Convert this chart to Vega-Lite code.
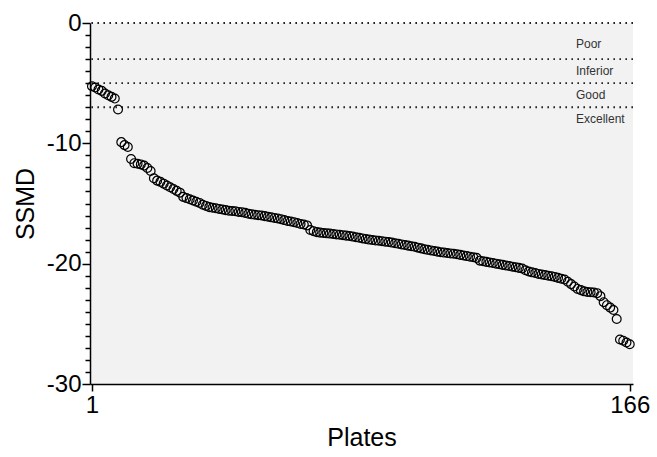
{
  "$schema": "https://vega.github.io/schema/vega-lite/v6.json",
  "width": 543,
  "height": 361,
  "autosize": "none",
  "padding": {"left": 90, "top": 23, "right": 24, "bottom": 73},
  "config": {
    "view": {"fill": "#f2f2f2", "stroke": null},
    "font": "Liberation Sans",
    "axis": {"domainColor": "#000", "tickColor": "#000", "labelColor": "#000", "titleColor": "#000", "grid": false, "labelFont": "Liberation Sans", "titleFont": "Liberation Sans", "titleFontWeight": "normal", "domainWidth": 1.5, "tickWidth": 1.5}
  },
  "datasets": {
    "plates": [
      {"plate":1,"ssmd":-5.25},{"plate":2,"ssmd":-5.36},{"plate":3,"ssmd":-5.53},{"plate":4,"ssmd":-5.64},{"plate":5,"ssmd":-5.86},{"plate":6,"ssmd":-6.0},{"plate":7,"ssmd":-6.14},{"plate":8,"ssmd":-6.28},{"plate":9,"ssmd":-7.19},{"plate":10,"ssmd":-9.9},
      {"plate":11,"ssmd":-10.15},{"plate":12,"ssmd":-10.3},{"plate":13,"ssmd":-11.3},{"plate":14,"ssmd":-11.65},{"plate":15,"ssmd":-11.7},{"plate":16,"ssmd":-11.75},{"plate":17,"ssmd":-11.85},{"plate":18,"ssmd":-12.05},{"plate":19,"ssmd":-12.3},{"plate":20,"ssmd":-12.9},
      {"plate":21,"ssmd":-13.1},{"plate":22,"ssmd":-13.2},{"plate":23,"ssmd":-13.35},{"plate":24,"ssmd":-13.5},{"plate":25,"ssmd":-13.65},{"plate":26,"ssmd":-13.8},{"plate":27,"ssmd":-13.95},{"plate":28,"ssmd":-14.1},{"plate":29,"ssmd":-14.45},{"plate":30,"ssmd":-14.55},
      {"plate":31,"ssmd":-14.65},{"plate":32,"ssmd":-14.75},{"plate":33,"ssmd":-14.85},{"plate":34,"ssmd":-14.95},{"plate":35,"ssmd":-15.1},{"plate":36,"ssmd":-15.2},{"plate":37,"ssmd":-15.3},{"plate":38,"ssmd":-15.35},{"plate":39,"ssmd":-15.4},{"plate":40,"ssmd":-15.45},
      {"plate":41,"ssmd":-15.5},{"plate":42,"ssmd":-15.55},{"plate":43,"ssmd":-15.6},{"plate":44,"ssmd":-15.62},{"plate":45,"ssmd":-15.65},{"plate":46,"ssmd":-15.7},{"plate":47,"ssmd":-15.72},{"plate":48,"ssmd":-15.78},{"plate":49,"ssmd":-15.85},{"plate":50,"ssmd":-15.9},
      {"plate":51,"ssmd":-15.93},{"plate":52,"ssmd":-15.97},{"plate":53,"ssmd":-16.0},{"plate":54,"ssmd":-16.05},{"plate":55,"ssmd":-16.1},{"plate":56,"ssmd":-16.15},{"plate":57,"ssmd":-16.2},{"plate":58,"ssmd":-16.25},{"plate":59,"ssmd":-16.3},{"plate":60,"ssmd":-16.38},
      {"plate":61,"ssmd":-16.45},{"plate":62,"ssmd":-16.5},{"plate":63,"ssmd":-16.55},{"plate":64,"ssmd":-16.62},{"plate":65,"ssmd":-16.7},{"plate":66,"ssmd":-16.75},{"plate":67,"ssmd":-16.82},{"plate":68,"ssmd":-17.2},{"plate":69,"ssmd":-17.3},{"plate":70,"ssmd":-17.38},
      {"plate":71,"ssmd":-17.42},{"plate":72,"ssmd":-17.45},{"plate":73,"ssmd":-17.48},{"plate":74,"ssmd":-17.5},{"plate":75,"ssmd":-17.53},{"plate":76,"ssmd":-17.57},{"plate":77,"ssmd":-17.6},{"plate":78,"ssmd":-17.63},{"plate":79,"ssmd":-17.67},{"plate":80,"ssmd":-17.7},
      {"plate":81,"ssmd":-17.75},{"plate":82,"ssmd":-17.8},{"plate":83,"ssmd":-17.85},{"plate":84,"ssmd":-17.9},{"plate":85,"ssmd":-17.95},{"plate":86,"ssmd":-18.0},{"plate":87,"ssmd":-18.03},{"plate":88,"ssmd":-18.07},{"plate":89,"ssmd":-18.1},{"plate":90,"ssmd":-18.13},
      {"plate":91,"ssmd":-18.17},{"plate":92,"ssmd":-18.2},{"plate":93,"ssmd":-18.25},{"plate":94,"ssmd":-18.3},{"plate":95,"ssmd":-18.35},{"plate":96,"ssmd":-18.4},{"plate":97,"ssmd":-18.45},{"plate":98,"ssmd":-18.5},{"plate":99,"ssmd":-18.55},{"plate":100,"ssmd":-18.6},
      {"plate":101,"ssmd":-18.67},{"plate":102,"ssmd":-18.73},{"plate":103,"ssmd":-18.8},{"plate":104,"ssmd":-18.85},{"plate":105,"ssmd":-18.9},{"plate":106,"ssmd":-18.95},{"plate":107,"ssmd":-19.0},{"plate":108,"ssmd":-19.05},{"plate":109,"ssmd":-19.08},{"plate":110,"ssmd":-19.12},
      {"plate":111,"ssmd":-19.15},{"plate":112,"ssmd":-19.18},{"plate":113,"ssmd":-19.22},{"plate":114,"ssmd":-19.27},{"plate":115,"ssmd":-19.32},{"plate":116,"ssmd":-19.37},{"plate":117,"ssmd":-19.42},{"plate":118,"ssmd":-19.47},{"plate":119,"ssmd":-19.52},{"plate":120,"ssmd":-19.75},
      {"plate":121,"ssmd":-19.8},{"plate":122,"ssmd":-19.85},{"plate":123,"ssmd":-19.9},{"plate":124,"ssmd":-19.95},{"plate":125,"ssmd":-20.0},{"plate":126,"ssmd":-20.05},{"plate":127,"ssmd":-20.1},{"plate":128,"ssmd":-20.15},{"plate":129,"ssmd":-20.2},{"plate":130,"ssmd":-20.25},
      {"plate":131,"ssmd":-20.3},{"plate":132,"ssmd":-20.35},{"plate":133,"ssmd":-20.4},{"plate":134,"ssmd":-20.55},{"plate":135,"ssmd":-20.65},{"plate":136,"ssmd":-20.72},{"plate":137,"ssmd":-20.78},{"plate":138,"ssmd":-20.85},{"plate":139,"ssmd":-20.9},{"plate":140,"ssmd":-20.95},
      {"plate":141,"ssmd":-21.0},{"plate":142,"ssmd":-21.05},{"plate":143,"ssmd":-21.1},{"plate":144,"ssmd":-21.18},{"plate":145,"ssmd":-21.25},{"plate":146,"ssmd":-21.32},{"plate":147,"ssmd":-21.5},{"plate":148,"ssmd":-21.7},{"plate":149,"ssmd":-21.9},{"plate":150,"ssmd":-22.1},
      {"plate":151,"ssmd":-22.2},{"plate":152,"ssmd":-22.3},{"plate":153,"ssmd":-22.35},{"plate":154,"ssmd":-22.38},{"plate":155,"ssmd":-22.4},{"plate":156,"ssmd":-22.45},{"plate":157,"ssmd":-22.7},{"plate":158,"ssmd":-23.2},{"plate":159,"ssmd":-23.45},{"plate":160,"ssmd":-23.65},
      {"plate":161,"ssmd":-23.85},{"plate":162,"ssmd":-24.6},{"plate":163,"ssmd":-26.3},{"plate":164,"ssmd":-26.4},{"plate":165,"ssmd":-26.55},{"plate":166,"ssmd":-26.7}
    ],
    "thresholds": [{"level": 0}, {"level": -3}, {"level": -5}, {"level": -7}],
    "labels": [
      {"label": "Poor", "pos": -1.75},
      {"label": "Inferior", "pos": -4.0},
      {"label": "Good", "pos": -6.0},
      {"label": "Excellent", "pos": -8.0}
    ]
  },
  "layer": [
    {
      "data": {"name": "thresholds"},
      "mark": {"type": "rule", "strokeDash": [1.6, 4.4], "strokeWidth": 1.8, "color": "#222"},
      "encoding": {
        "y": {"field": "level", "type": "quantitative",
          "scale": {"domain": [-30, 0], "nice": false, "zero": false},
          "axis": {"orient": "left", "values": [0, -10, -20, -30], "labelExpr": "toString(datum.value)", "tickSize": 8, "labelFontSize": 24, "labelPadding": 1, "title": "SSMD", "titleFontSize": 25, "titlePadding": 8, "domain": true}}
      }
    },
    {
      "data": {"name": "labels"},
      "mark": {"type": "text", "align": "left", "baseline": "middle", "fontSize": 12, "color": "#333", "font": "Liberation Sans"},
      "encoding": {
        "x": {"datum": 149.5, "type": "quantitative"},
        "y": {"field": "pos", "type": "quantitative", "axis": null},
        "text": {"field": "label"}
      }
    },
    {
      "data": {"name": "plates"},
      "mark": {"type": "point", "shape": "circle", "filled": false, "color": "#000", "size": 78, "strokeWidth": 1.2, "opacity": 1},
      "encoding": {
        "x": {"field": "plate", "type": "quantitative",
          "scale": {"domain": [0.4, 167], "nice": false, "zero": false},
          "axis": {"values": [1, 166], "tickSize": 7, "labelFontSize": 24, "labelPadding": 2, "title": "Plates", "titleFontSize": 25, "titlePadding": 8}},
        "y": {"field": "ssmd", "type": "quantitative",
          "axis": {"orient": "left", "values": [-1,-2,-3,-4,-5,-6,-7,-8,-9,-11,-12,-13,-14,-15,-16,-17,-18,-19,-21,-22,-23,-24,-25,-26,-27,-28,-29], "tickSize": 5, "labels": false, "title": null, "domain": false}}
      }
    }
  ],
  "resolve": {"axis": {"y": "independent"}}
}
